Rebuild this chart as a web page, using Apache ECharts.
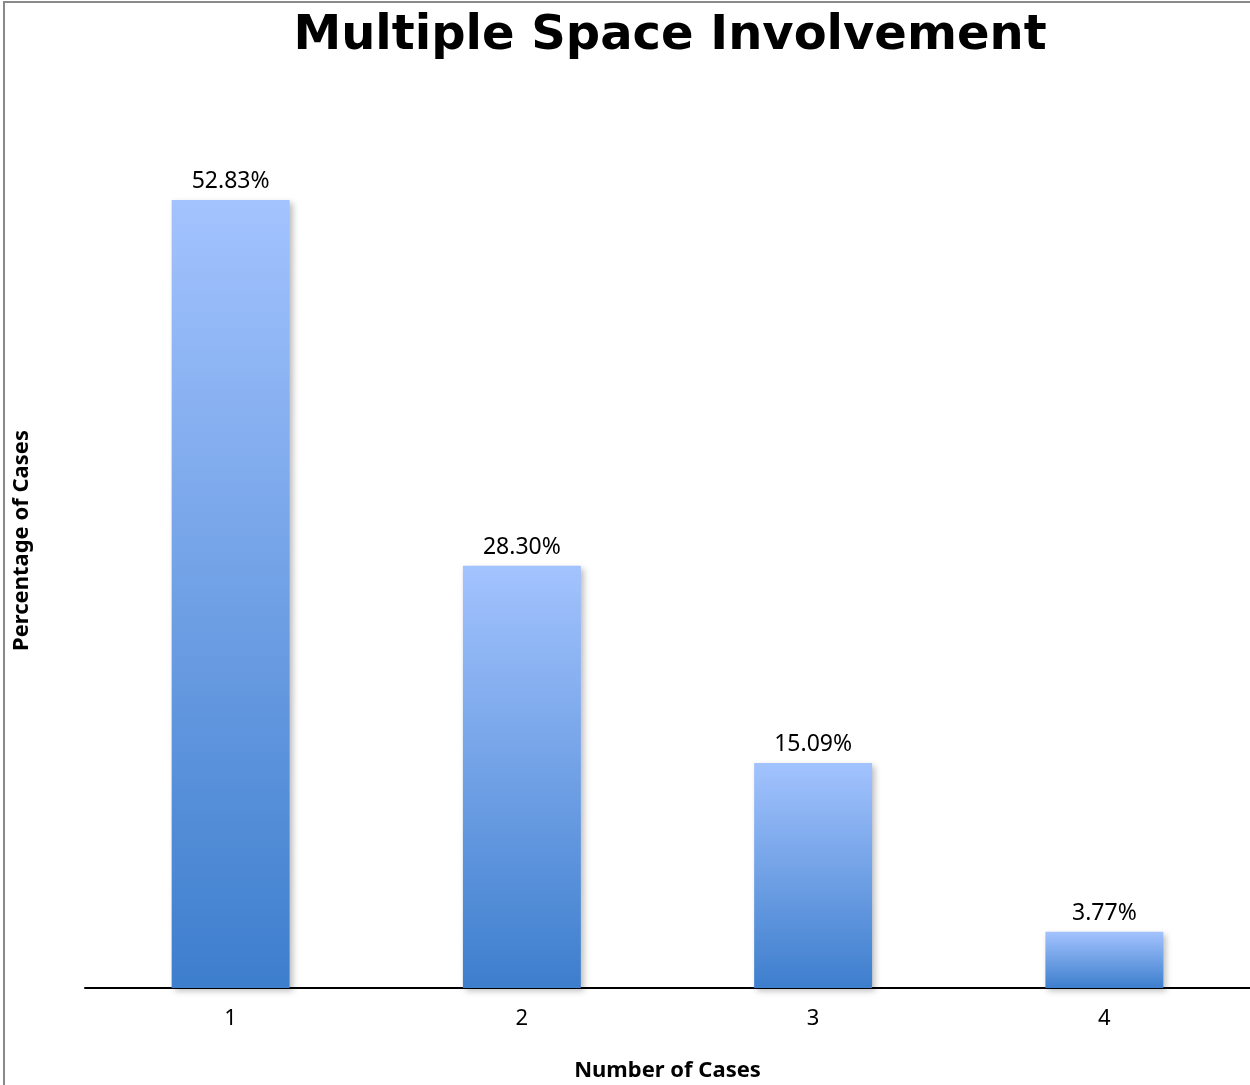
<!DOCTYPE html>
<html>
<head>
<meta charset="utf-8">
<script src="https://cdn.jsdelivr.net/npm/echarts@6/dist/echarts.min.js"></script>
<style>
html,body{margin:0;padding:0;background:#fff;overflow:hidden;}
#frame{position:absolute;left:3px;top:1px;width:1247px;height:1084px;border-left:2px solid #8a8a8a;border-top:2px solid #8a8a8a;box-sizing:border-box;}
#chart{position:absolute;left:0;top:0;width:1250px;height:1085px;}
</style>
</head>
<body>
<div id="frame"></div>
<div id="chart"></div>
<script>
const categories = ['1', '2', '3', '4'];
const percentages = [52.83, 28.30, 15.09, 3.77];
const titleText = 'Multiple Space Involvement';
const xAxisName = 'Number of Cases';
const yAxisName = 'Percentage of Cases';

const chart = echarts.init(document.getElementById('chart'), null, {renderer: 'canvas', width: 1250, height: 1085});
chart.setOption({
  backgroundColor: 'transparent',
  animation: false,
  title: {
    text: titleText,
    left: 665, top: 8, textAlign: 'center',
    textStyle: {fontFamily: 'DejaVu Sans', fontWeight: 'bold', fontSize: 48, color: '#000'}
  },
  grid: {left: 85, width: 1165, top: 93, height: 895, containLabel: false, outerBoundsMode: 'none'},
  xAxis: {
    type: 'category',
    data: categories,
    name: xAxisName,
    nameLocation: 'middle',
    nameGap: 72,
    nameTextStyle: {fontFamily: 'Noto Sans', fontWeight: 'bold', fontSize: 22, color: '#000'},
    axisLine: {show: true, lineStyle: {color: '#000', width: 2}},
    axisTick: {show: false},
    axisLabel: {fontFamily: 'Noto Sans', fontSize: 22, color: '#000', margin: 20}
  },
  yAxis: {
    type: 'value',
    min: 0, max: 60,
    name: yAxisName,
    nameLocation: 'middle',
    nameGap: 52,
    nameRotate: 90,
    nameTextStyle: {fontFamily: 'Noto Sans', fontWeight: 'bold', fontSize: 22, color: '#000'},
    axisLine: {show: false},
    axisTick: {show: false},
    axisLabel: {show: false},
    splitLine: {show: false}
  },
  series: [{
    type: 'bar',
    data: percentages,
    barWidth: '40.5%',
    itemStyle: {
      color: new echarts.graphic.LinearGradient(0, 0, 0, 1, [
        {offset: 0, color: '#a3c3fe'},
        {offset: 1, color: '#3d7ecd'}
      ]),
      shadowBlur: 6,
      shadowOffsetX: 3,
      shadowOffsetY: 3,
      shadowColor: 'rgba(0,0,0,0.25)'
    },
    label: {
      show: true,
      position: 'top',
      distance: 7,
      formatter: p => p.value.toFixed(2) + '%',
      fontFamily: 'Noto Sans', fontSize: 23, color: '#000'
    }
  }]
});
</script>
</body>
</html>
